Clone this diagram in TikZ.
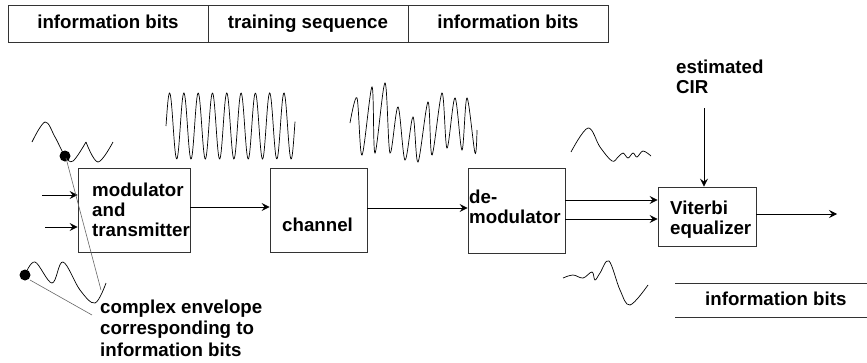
\documentclass[tikz,border=0pt]{standalone}
\usepackage{fontspec}
\setmainfont{Liberation Sans}
\usetikzlibrary{arrows.meta}
\begin{document}
\begin{tikzpicture}[x=1pt,y=-1pt,
  txt/.style={font=\bfseries\fontsize{18.7}{19.8}\selectfont, inner sep=0pt},
  box/.style={draw=black!80, line width=0.8pt, inner sep=0pt},
  cell/.style={box, minimum width=200pt, minimum height=37pt, txt, text height=14pt, text depth=4pt},
  arr/.style={draw, line width=0.8pt, -{Stealth[length=8pt,width=8pt,inset=3pt]}},
  wave/.style={line width=0.7pt},
  pointer/.style={draw=black!60, line width=0.6pt}]
\useasboundingbox (0,0) rectangle (867,362);
% top frame
\node[cell] (bar1) at (108,23.5) {information bits};
\node[cell] (bar2) at (308,23.5) {training sequence};
\node[cell] (bar3) at (508,23.5) {information bits};
% boxes
\node[box, minimum width=112pt, minimum height=84pt] (mod) at (134,210) {};
\node[box, minimum width=97pt, minimum height=84pt] (chan) at (318.5,210) {};
\node[box, minimum width=97pt, minimum height=85pt] (demod) at (516.5,210.5) {};
\node[box, minimum width=98pt, minimum height=59pt] (vit) at (707,216.5) {};
% box texts (base = baseline of last line)
\node[txt, anchor=base west, align=left] (modt) at (92,236) {modulator\\and\\transmitter};
\node[txt, anchor=base west] (chant) at (282,231) {channel};
\node[txt, anchor=base west, align=left] (demodt) at (469,223) {de-\\modulator};
\node[txt, anchor=base west, align=left] (vitt) at (670,234) {Viterbi\\equalizer};
\node[txt, anchor=base west, align=left] (cirt) at (676,93) {estimated\\CIR};
\node[txt, font=\bfseries\fontsize{18.7}{21.5}\selectfont, anchor=base west, align=left] (envt) at (100,356) {complex envelope\\corresponding to\\information bits};
% bottom right information bits
\node[txt, anchor=base west] (outbits) at (705,305) {information bits};
\draw[box] (675,283) -- (867,283);
\draw[box] (675,317) -- (867,317);
% connectors
\coordinate (in1) at (42,195);
\coordinate (in2) at (45,227);
\draw[arr] (in1) -- (in1 -| mod.west);
\draw[arr] (in2) -- (in2 -| mod.west);
\draw[arr] (mod.east |- 0,207) -- (chan.west |- 0,207);
\draw[arr] (chan.east |- 0,208) -- (demod.west |- 0,208);
\draw[arr] (demod.east |- 0,200) -- (vit.west |- 0,200);
\draw[arr] (demod.east |- 0,219) -- (vit.west |- 0,219);
\coordinate (cir) at (704,108);
\draw[arr] (cir) -- (cir |- vit.north);
\coordinate (out) at (837,214);
\draw[arr] (vit.east |- out) -- (out);
% carrier wave
\draw[wave] plot[domain=0:129, samples=260] ({166+\x},{126-33*sin(25.175*\x)});
% channel output wave
\draw[wave] plot[smooth, tension=0.55] coordinates {(350,123) (357,98) (362,155) (372,87) (375,153) (385,83) (390,153) (398,107) (405,160) (413,117) (418,162) (428,102) (432,155) (442,93) (447,148) (455,98) (462,150) (467,98) (475,153) (477,130)};
% envelope waves left
\draw[wave] plot[smooth, tension=0.6] coordinates {(32,142) (45,122) (55,137) (65,156) (73,161) (86,142)};
\draw[wave] plot[smooth, tension=0.6] coordinates {(86,142) (98,162) (113,142)};
\fill (65,156) circle[radius=5.5pt];
\draw[wave] plot[smooth, tension=0.6] coordinates {(25,275) (35,262) (52,283) (63,262) (80,290) (95,303) (106,283)};
\fill (25,275) circle[radius=5.5pt];
\draw[pointer] (66,158) -- (101,290);
\draw[pointer] (30,280) -- (92,315);
% demodulator output waves
\draw[wave] plot[smooth, tension=0.6] coordinates {(571,152) (588,128) (600,147) (612,161) (618,157) (623,153) (628,158) (633,153) (637,157) (643,151) (651,156)};
\draw[wave] plot[smooth, tension=0.6] coordinates {(563,278) (573,275) (583,278) (592,272) (595,280) (600,273) (609,261) (620,290) (630,305) (648,285)};
\end{tikzpicture}
\end{document}
